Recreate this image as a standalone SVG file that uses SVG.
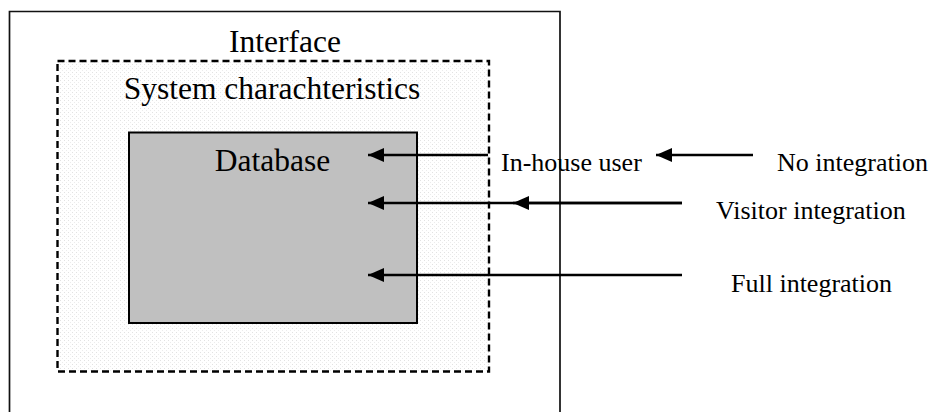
<svg xmlns="http://www.w3.org/2000/svg" width="932" height="412" viewBox="0 0 932 412">
  <style>
    .lbl { font-family: "Liberation Serif", "Times New Roman", serif; fill: #000; }
    .big { font-size: 31.5px; }
    .small { font-size: 26px; }
    .conn { stroke: #000; stroke-width: 2.6; fill: none; }
  </style>
  <defs>
    <pattern id="dots" width="4" height="4" patternUnits="userSpaceOnUse">
      <rect width="4" height="4" fill="#fff"/>
      <rect x="0" y="0" width="1" height="1" fill="#e2e2e2"/>
      <rect x="2" y="2" width="1" height="1" fill="#ececec"/>
    </pattern>
    <marker id="head" viewBox="0 0 16 14" refX="16" refY="7" markerWidth="16" markerHeight="14" markerUnits="userSpaceOnUse" orient="auto">
      <path d="M0,0 L16,7 L0,14 Z" fill="#000"/>
    </marker>
  </defs>

  <!-- Interface: outer frame, open at the bottom -->
  <g id="interface">
    <path d="M9.5,412 V11.5 H560 V412" fill="none" stroke="#111" stroke-width="1.7"/>
    <text class="lbl big" x="285" y="52" text-anchor="middle">Interface</text>
  </g>

  <!-- System characteristics: dashed, dotted fill -->
  <g id="system">
    <rect x="57.5" y="61" width="431.5" height="310.5" fill="url(#dots)" stroke="#000" stroke-width="2.4" stroke-dasharray="7,4"/>
    <text class="lbl big" x="272" y="99" text-anchor="middle">System charachteristics</text>
  </g>

  <!-- Database -->
  <g id="database">
    <rect x="129" y="132.5" width="288" height="190.5" fill="#c0c0c0" stroke="#000" stroke-width="2"/>
    <text class="lbl big" x="272.5" y="171" text-anchor="middle">Database</text>
  </g>

  <g id="in-house-user">
    <text class="lbl small" x="501" y="171">In-house user</text>
  </g>
  <g id="no-integration">
    <text class="lbl small" x="777" y="171">No integration</text>
  </g>
  <g id="visitor-integration">
    <text class="lbl small" x="716" y="219">Visitor integration</text>
  </g>
  <g id="full-integration">
    <text class="lbl small" x="731" y="292">Full integration</text>
  </g>

  <!-- Connectors -->
  <g id="connectors">
    <line class="conn" x1="488" y1="155" x2="368" y2="155" marker-end="url(#head)"/>
    <line class="conn" x1="753" y1="155" x2="656" y2="155" marker-end="url(#head)"/>
    <line class="conn" x1="682" y1="203" x2="368" y2="203" marker-end="url(#head)"/>
    <line class="conn" x1="682" y1="203" x2="513" y2="203" marker-end="url(#head)"/>
    <line class="conn" x1="682" y1="275" x2="368" y2="275" marker-end="url(#head)"/>
  </g>
</svg>
